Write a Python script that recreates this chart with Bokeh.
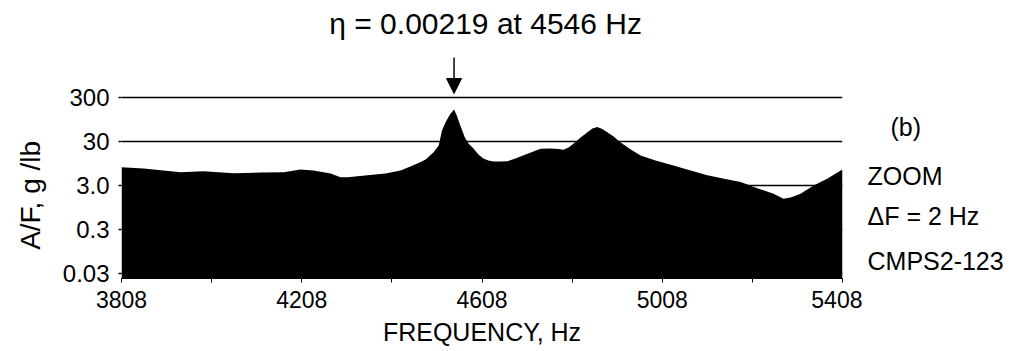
import math
from bokeh.plotting import figure
from bokeh.layouts import row
from bokeh.models import Range1d, FixedTicker, Label, Arrow, NormalHead
from bokeh.embed import file_html
from bokeh.resources import INLINE

# ---- data ----
freq_hz = [3808, 3857, 3939, 3990, 4057, 4116, 4168, 4205, 4234, 4272,
           4294, 4310, 4354, 4394, 4427, 4449, 4472, 4483, 4500, 4512,
           4519, 4528, 4537, 4546, 4552, 4559, 4570, 4578, 4589, 4600,
           4611, 4622, 4634, 4649, 4665, 4682, 4709, 4738, 4760, 4778,
           4789, 4800, 4811, 4827, 4842, 4853, 4864, 4875, 4886, 4900,
           4915, 4938, 4960, 4993, 5033, 5071, 5108, 5148, 5182, 5219,
           5255, 5277, 5293, 5315, 5344, 5375, 5404, 5408]
af_g_per_lb = [7.8, 7.3, 6.0, 6.3, 5.7, 5.9, 6.0, 6.9, 6.6, 5.6,
               4.6, 4.6, 5.1, 5.6, 6.6, 8.1, 10.2, 11.7, 16.9, 24.3,
               53, 85, 123, 160, 117, 73, 37, 27, 20.8, 15.2,
               12.3, 11.1, 10.5, 10.5, 10.7, 12.3, 15.8, 20.5, 20.8, 20.3,
               19.4, 21.9, 26.6, 37.0, 48.8, 59.2, 64.0, 57.7, 48.8, 39.0,
               28.9, 19.7, 14.4, 11.1, 8.55, 6.6, 5.1, 4.2, 3.6, 2.6,
               1.94, 1.50, 1.60, 1.94, 3.0, 4.3, 6.6, 6.9]

x_major_ticks = [3808, 4208, 4608, 5008, 5408]
x_minor_ticks = [4008, 4408, 4808, 5208]
y_ticks = [0.03, 0.3, 3, 30, 300]
y_tick_labels = ["0.03", "0.3", "3.0", "30", "300"]

peak_freq = 4546
peak_text = "\u03b7 = 0.00219 at 4546 Hz"
y_label = "A/F,  g /lb"
side_texts = ["(b)", "ZOOM", "\u0394F = 2 Hz", "CMPS2-123"]

FONT = "Liberation Sans"

y_start, y_end = 0.0231, 48040
FRAME_H = 278   # frame height in pixels, shared by the three panels


def blank_strip(w):
    f = figure(width=w, height=351, x_range=Range1d(0, w),
               y_range=Range1d(FRAME_H, 0),
               x_axis_location=None, y_axis_location=None,
               output_backend="svg", toolbar_location=None,
               min_border_left=0, min_border_right=0,
               min_border_top=0, min_border_bottom=351 - FRAME_H)
    f.outline_line_color = None
    f.grid.visible = False
    return f


# ---------- left strip: y-axis title ----------
left = blank_strip(56)
left.add_layout(Label(x=30, y=191, text=y_label, angle=math.pi / 2,
                      text_align="center", text_baseline="middle",
                      text_font=FONT, text_font_size="28px",
                      text_color="black"))

# ---------- main plot ----------
p = figure(width=806, height=351,
           x_range=Range1d(3808, 5408), y_range=Range1d(y_start, y_end),
           y_axis_type="log", output_backend="svg", toolbar_location=None,
           min_border_left=65, min_border_right=20,
           min_border_top=0, min_border_bottom=351 - FRAME_H)
p.outline_line_color = None

p.varea(x=freq_hz, y1=y_start, y2=af_g_per_lb, fill_color="black")

yt = FixedTicker(ticks=y_ticks)
p.yaxis.ticker = yt
p.ygrid.ticker = yt
p.yaxis.major_label_overrides = {v: s for v, s in zip(y_ticks, y_tick_labels)}
p.yaxis.axis_line_color = None
p.yaxis.major_tick_out = 3
p.yaxis.major_tick_in = 0
p.yaxis.major_tick_line_color = "black"
p.yaxis.major_tick_line_width = 1.5
p.yaxis.minor_tick_line_color = None
p.yaxis.major_label_standoff = 9
p.yaxis.major_label_text_font = FONT
p.yaxis.major_label_text_font_size = "24px"
p.yaxis.major_label_text_color = "black"

p.ygrid.grid_line_color = "black"
p.ygrid.grid_line_width = 1.5
p.xgrid.visible = False

p.xaxis.ticker = FixedTicker(ticks=x_major_ticks, minor_ticks=x_minor_ticks)
p.xaxis.axis_line_color = "black"
p.xaxis.axis_line_width = 1
p.xaxis.major_tick_out = 4
p.xaxis.major_tick_in = 0
p.xaxis.minor_tick_out = 4
p.xaxis.minor_tick_in = 0
p.xaxis.major_tick_line_color = "black"
p.xaxis.minor_tick_line_color = "black"
p.xaxis.major_label_standoff = 8
p.xaxis.major_label_text_font = FONT
p.xaxis.major_label_text_font_size = "23px"
p.xaxis.major_label_text_color = "black"
p.xaxis.axis_label = "FREQUENCY, Hz"
p.xaxis.axis_label_text_font = FONT
p.xaxis.axis_label_text_font_style = "normal"
p.xaxis.axis_label_text_font_size = "25px"
p.xaxis.axis_label_text_color = "black"
p.xaxis.axis_label_standoff = 7

# peak annotation
p.add_layout(Label(x=4616, y=14420, text=peak_text, text_align="center",
                   text_baseline="middle", text_font=FONT,
                   text_font_size="30px", text_color="black"))
p.add_layout(Arrow(x_start=peak_freq, y_start=2433, x_end=peak_freq, y_end=370,
                   line_color="black", line_width=1.5,
                   end=NormalHead(size=15, fill_color="black",
                                  line_color="black")))

# ---------- right strip: notes ----------
side = blank_strip(161)
side_pos = [(28, 126), (5, 175.5), (5, 215.5), (5, 260)]
for t, (sx, sy) in zip(side_texts, side_pos):
    side.add_layout(Label(x=sx, y=sy, text=t, text_align="left",
                          text_baseline="middle", text_font=FONT,
                          text_font_size="25px", text_color="black"))

layout = row(left, p, side)
open("out.html", "w").write(file_html(layout, INLINE))
